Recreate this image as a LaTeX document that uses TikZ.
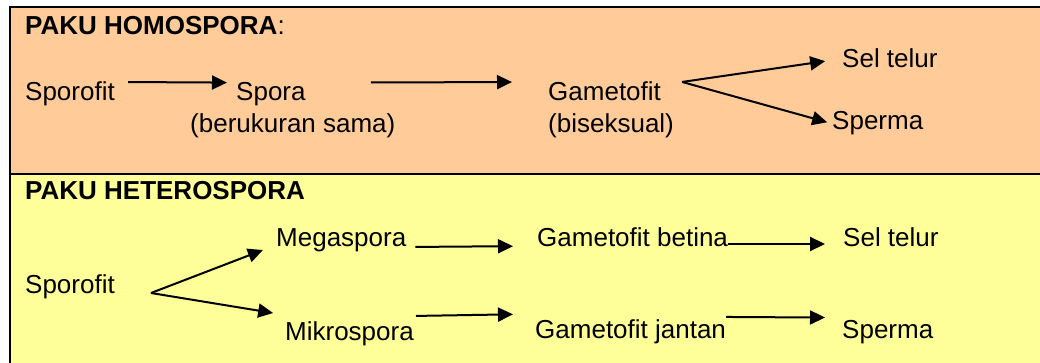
\documentclass[tikz,border=0pt]{standalone}
\usepackage{fontspec}
\setmainfont{Liberation Sans}
\usetikzlibrary{arrows.meta}
\definecolor{peach}{HTML}{FFCC99}
\definecolor{lemon}{HTML}{FFFF99}

\begin{document}
\begin{tikzpicture}[x=1pt,y=-1pt,
    txt/.style={inner sep=0pt,anchor=base west,font=\fontsize{26}{30}\selectfont},
    ttl/.style={txt,font=\fontsize{26}{30}\selectfont\bfseries},
    arr/.style={line width=2pt,-{Triangle[length=15pt,width=14pt]}}]
      \useasboundingbox (0,0) rectangle (1040,363);
      \fill[peach] (10,7) rectangle (1040,174);
      \fill[lemon] (10,174) rectangle (1040,363);
      \draw[line width=1.5pt] (10,7) -- (1040,7);
      \draw[line width=2pt] (10,174) -- (1040,174);
      \draw[line width=2.5pt] (10,6.25) -- (10,363);

      \begin{scope}
          \node[ttl] (htitle) at (25,35) {PAKU HOMOSPORA\mdseries:};
          \node[txt] (hsporofit) at (25,101) {Sporofit};
          \node[txt] (hspora) at (236,101) {Spora};
          \node[txt] (hsama) at (190,133) {(berukuran sama)};
          \node[txt] (hgamet) at (548,101) {Gametofit};
          \node[txt] (hbisek) at (548,133) {(biseksual)};
          \node[txt] (htelur) at (842,68) {Sel telur};
          \node[txt] (hsperma) at (832,130) {Sperma};
          \coordinate (hfork) at ([xshift=21pt]hgamet.north east);
          \draw[arr,shorten <=13pt,shorten >=9pt] (hsporofit.north east) -- (hspora.north west);
          \draw[arr,shorten <=65pt,shorten >=36pt] (hspora.north east) -- (hgamet.north west);
          \draw[arr,shorten >=17pt] (hfork) -- (htelur.west);
          \draw[arr,shorten >=5pt] (hfork) -- (hsperma.west);
      \end{scope}

      \begin{scope}
          \node[ttl] (xtitle) at (25,200) {PAKU HETEROSPORA};
          \node[txt] (xsporofit) at (25,293) {Sporofit};
          \node[txt] (xmega) at (276,247) {Megaspora};
          \node[txt] (xmikro) at (285,340) {Mikrospora};
          \node[txt] (xbetina) at (537,246) {Gametofit betina};
          \node[txt] (xjantan) at (535,338) {Gametofit jantan};
          \node[txt] (xtelur) at (843,246) {Sel telur};
          \node[txt] (xsperma) at (842,338) {Sperma};
          \coordinate (xfork) at ([xshift=36pt]xsporofit.base east);
          \draw[arr,shorten >=14pt] (xfork) -- ([yshift=2pt]xmega.base west);
          \draw[arr,shorten >=12pt] (xfork) -- ([yshift=6pt]xmikro.north west);
          \draw[arr,shorten <=9pt,shorten >=24pt] (xmega.base east) -- (xbetina.base west);
          \draw[arr,shorten <=2pt,shorten >=22pt] ([yshift=5pt]xmikro.north east) -- ([yshift=5pt]xjantan.north west);
          \draw[arr,shorten >=18pt] ([yshift=2pt]xbetina.base east) -- ([yshift=2pt]xtelur.base west);
          \draw[arr,shorten >=17pt] ([yshift=2pt]xjantan.north east) -- ([yshift=2pt]xsperma.north west);
      \end{scope}
    \end{tikzpicture}
\end{document}
